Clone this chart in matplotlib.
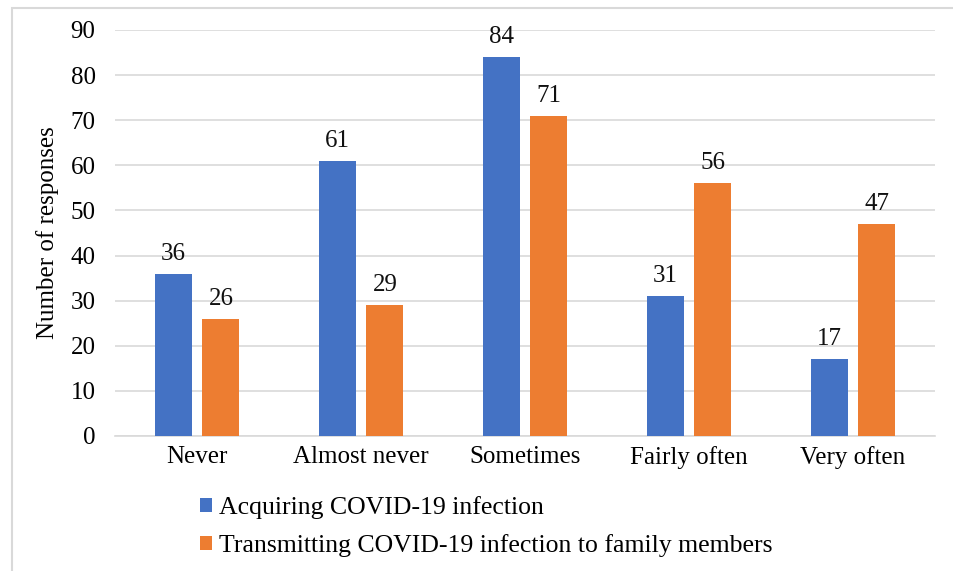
import matplotlib.pyplot as plt
import numpy as np
from matplotlib.patches import Rectangle

categories = ["Never", "Almost never", "Sometimes", "Fairly often", "Very often"]
acquiring = [36, 61, 84, 31, 17]
transmitting = [26, 29, 71, 56, 47]
series_names = ["Acquiring COVID-19 infection",
                "Transmitting COVID-19 infection to family members"]

blue = "#4472C4"
orange = "#ED7D31"

plt.rcParams['font.family'] = ['Liberation Serif', 'DejaVu Serif']

fig = plt.figure(figsize=(9.54, 5.71), dpi=100)
W, H = 954, 571
# plot area in pixels: left 115, right 935, top (y=90) 30, bottom (y=0) 436
ax = fig.add_axes([115 / W, 1 - 436 / H, 820 / W, 406 / H])

x = np.arange(len(categories))
width = 0.226
offset = 0.146
b1 = ax.bar(x - offset, acquiring, width, color=blue, label=series_names[0], zorder=3)
b2 = ax.bar(x + offset, transmitting, width, color=orange, label=series_names[1], zorder=3)

for bars, vals in ((b1, acquiring), (b2, transmitting)):
    for rect, v in zip(bars, vals):
        ax.text(rect.get_x() + rect.get_width() / 2, v + 2.0, str(v),
                ha='center', va='bottom', fontsize=18, color='#111111')

ax.set_xlim(-0.5, len(categories) - 0.5)
ax.set_ylim(0, 90)
ax.set_yticks(np.arange(0, 91, 10))
ax.set_xticks(x)
ax.set_xticklabels(categories, fontsize=18)
ax.tick_params(axis='y', labelsize=18, length=0, pad=14)
ax.tick_params(axis='x', length=0, pad=7)
ax.grid(axis='y', color='#D9D9D9', linewidth=1.2, zorder=0)
for s in ('top', 'right', 'left'):
    ax.spines[s].set_visible(False)
ax.spines['bottom'].set_color('#D9D9D9')
ax.spines['bottom'].set_linewidth(1.2)
ax.set_ylabel("Number of responses", fontsize=18, labelpad=8)

leg = fig.legend(handles=[b1, b2], labels=series_names, loc='upper left',
                 bbox_to_anchor=(200 / W, 1 - 496 / H), frameon=False,
                 fontsize=18.5, handlelength=0.45, handleheight=0.45,
                 handletextpad=0.3, labelspacing=0.6, borderaxespad=0, borderpad=0)

# figure border
fig.patches.append(Rectangle((12 / W, -0.02), 1.05, 1 - 8 / H + 0.02,
                             transform=fig.transFigure, fill=False,
                             edgecolor='#D9D9D9', linewidth=1.5))

fig.savefig("out.png", dpi=100)
